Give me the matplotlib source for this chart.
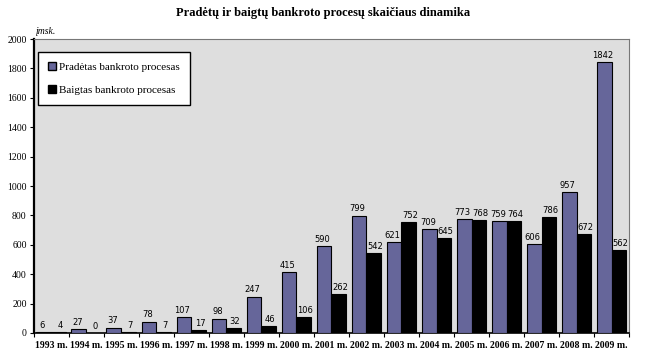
import matplotlib.pyplot as plt
import numpy as np
from matplotlib.patches import Patch

# data
years = ['1993 m.', '1994 m.', '1995 m.', '1996 m.', '1997 m.', '1998 m.',
         '1999 m.', '2000 m.', '2001 m.', '2002 m.', '2003 m.', '2004 m.',
         '2005 m.', '2006 m.', '2007 m.', '2008 m.', '2009 m.']
started = [6, 27, 37, 78, 107, 98, 247, 415, 590, 799, 621, 709, 773, 759, 606, 957, 1842]
finished = [4, 0, 7, 7, 17, 32, 46, 106, 262, 542, 752, 645, 768, 764, 786, 672, 562]

purple = '#66669a'
serif = 'Liberation Serif'

fig = plt.figure(figsize=(6.46, 3.55), dpi=100)
ax = fig.add_axes([0.052, 0.062, 0.922, 0.828])
ax.set_facecolor('#dedede')

x = np.arange(len(years))
w = 0.42
ax.bar(x - w/2, started, w, color=purple, edgecolor='black', linewidth=0.8, zorder=3)
ax.bar(x + w/2, finished, w, color='black', edgecolor='black', linewidth=0.8, zorder=3)

for i in range(len(years)):
    ax.text(x[i] - w/2 - 0.04, started[i] + 15, str(started[i]), ha='center', va='bottom',
            fontsize=6, family='DejaVu Sans', zorder=4)
    ax.text(x[i] + w/2 + 0.04, finished[i] + 15, str(finished[i]), ha='center', va='bottom',
            fontsize=6, family='DejaVu Sans', zorder=4)

ax.set_xlim(-0.5, len(years) - 0.5)
ax.set_ylim(0, 2000)
ax.set_yticks(range(0, 2001, 200))
ax.set_yticklabels([str(v) for v in range(0, 2001, 200)], family=serif, fontsize=7)
ax.set_xticks(x)
ax.set_xticklabels(years, family=serif, fontsize=7, fontweight='bold')
ax.set_xticks(np.arange(-0.5, len(years), 1), minor=True)
ax.tick_params(axis='x', which='major', length=0, pad=6)
ax.tick_params(axis='x', which='minor', length=3, width=0.8)
ax.tick_params(axis='y', length=3, width=0.8, pad=2)

ax.spines['left'].set_linewidth(1.6)
ax.spines['bottom'].set_linewidth(1.2)
ax.spines['top'].set_color('#777777')
ax.spines['right'].set_color('#777777')

leg = ax.legend(handles=[Patch(facecolor=purple, edgecolor='black', label='Pradėtas bankroto procesas'),
                         Patch(facecolor='black', edgecolor='black', label='Baigtas bankroto procesas')],
                loc='upper left', bbox_to_anchor=(0.008, 0.955), prop={'family': serif, 'size': 8},
                fancybox=False, framealpha=1, edgecolor='black', handlelength=0.7,
                handleheight=0.7, handletextpad=0.3, labelspacing=1.2, borderpad=0.9,
                borderaxespad=0)
leg.get_frame().set_linewidth(1.0)

fig.text(0.5, 0.955, 'Pradėtų ir baigtų bankroto procesų skaičiaus dinamika', ha='center',
         family=serif, fontsize=9, fontweight='bold')
fig.text(0.055, 0.905, 'įmsk.', ha='left', family=serif, fontsize=7, style='italic')

fig.savefig('out.png', dpi=100)
